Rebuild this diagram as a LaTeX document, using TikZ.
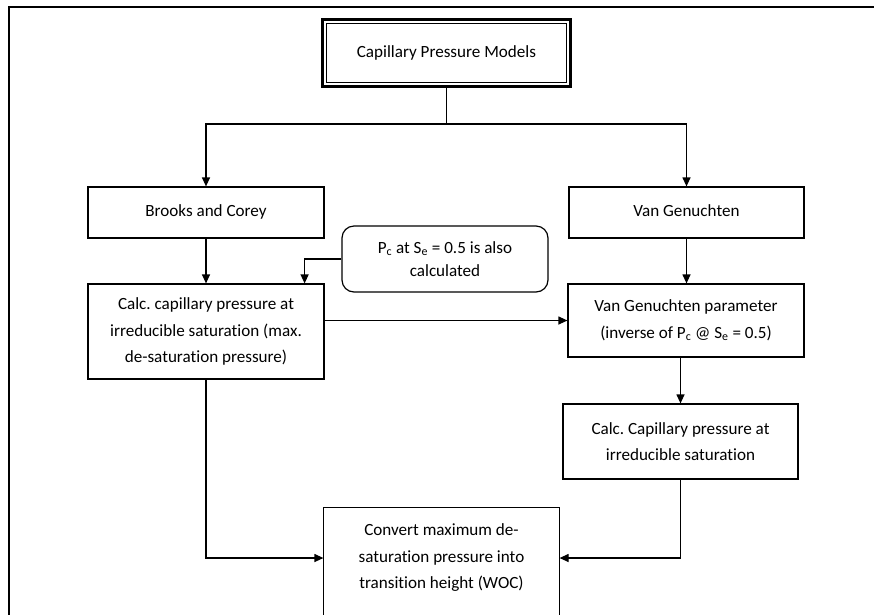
\documentclass[tikz,border=0pt]{standalone}
\usepackage{fontspec}
\setmainfont{Carlito}[Ligatures=NoCommon]
\usetikzlibrary{arrows.meta}
\frenchspacing

\begin{document}
\begin{tikzpicture}[x=1pt,y=-1pt,>={Triangle[length=9pt,width=8pt]},
    every node/.style={font=\fontsize{17.1}{26.5}\selectfont},
    flowbox/.style={draw,line width=1.2pt,align=center,inner sep=0pt},
    notebox/.style={flowbox,rounded corners=12pt},
    link/.style={line width=1.2pt}]
    \useasboundingbox (0,0) rectangle (874,614);
    \clip (0,0) rectangle (874,614);
    \draw[line width=1.8pt] (9,7) rectangle (900,650);

    \node[flowbox,line width=3.3pt,minimum width=248pt,minimum height=67pt] (top) at (446.4,53) {\raisebox{-2pt}{Capillary Pressure Models}};
    \draw[line width=0.9pt] ([shift={(6pt,-6pt)}]top.north west) rectangle ([shift={(-6pt,6pt)}]top.south east);

    \node[flowbox,minimum width=236pt,minimum height=51pt] (brooks) at (206,212.5) {\raisebox{3pt}{Brooks and Corey}};
    \node[flowbox,minimum width=235pt,minimum height=51pt] (vg) at (686.5,212.5) {\raisebox{3pt}{Van Genuchten}};
    \node[flowbox,minimum width=236pt,minimum height=95pt] (calcl) at (206,331.5) {Calc. capillary pressure at\\irreducible saturation (max.\\de-saturation pressure)};
    \node[notebox,minimum width=206pt,minimum height=66pt,font=\fontsize{17.1}{23}\selectfont] (note) at (445,259) {P\textsubscript{c} at S\textsubscript{e} = 0.5 is also\\calculated};
    \node[flowbox,minimum width=236pt,minimum height=73pt] (vgpar) at (686,320.5) {Van Genuchten parameter\\(inverse of P\textsubscript{c} @ S\textsubscript{e} = 0.5)};
    \node[flowbox,minimum width=235pt,minimum height=75pt] (calcr) at (680.5,441.5) {Calc. Capillary pressure at\\irreducible saturation};
    \node[flowbox,draw=none,minimum width=235pt,minimum height=100pt] (conv) at (441.5,558) {Convert maximum de-\\saturation pressure into\\transition height (WOC)};
    \draw[link] ([yshift=-40pt]conv.south west) |- (conv.north east) -- ++(0,140);

    \coordinate (split) at (446.4,124);
    \draw[link] (top.south) -- (split);
    \draw[link,->] (split) -| (brooks.north);
    \draw[link,->] (split) -| (vg.north);
    \draw[link,->] (brooks.south) -- (calcl.north);
    \draw[link,->] (vg.south) -- (vg.south |- vgpar.north);
    \draw[link,->] (note.west) -| ([xshift=-20pt]calcl.north east);
    \draw[link,->] (calcl.east |- vgpar.west) -- (vgpar.west);
    \draw[link,->] (calcr.north |- vgpar.south) -- (calcr.north);
    \draw[link,->] (calcl.south) |- (conv.west);
    \draw[link,->] (calcr.south) |- (conv.east);
\end{tikzpicture}
\end{document}
